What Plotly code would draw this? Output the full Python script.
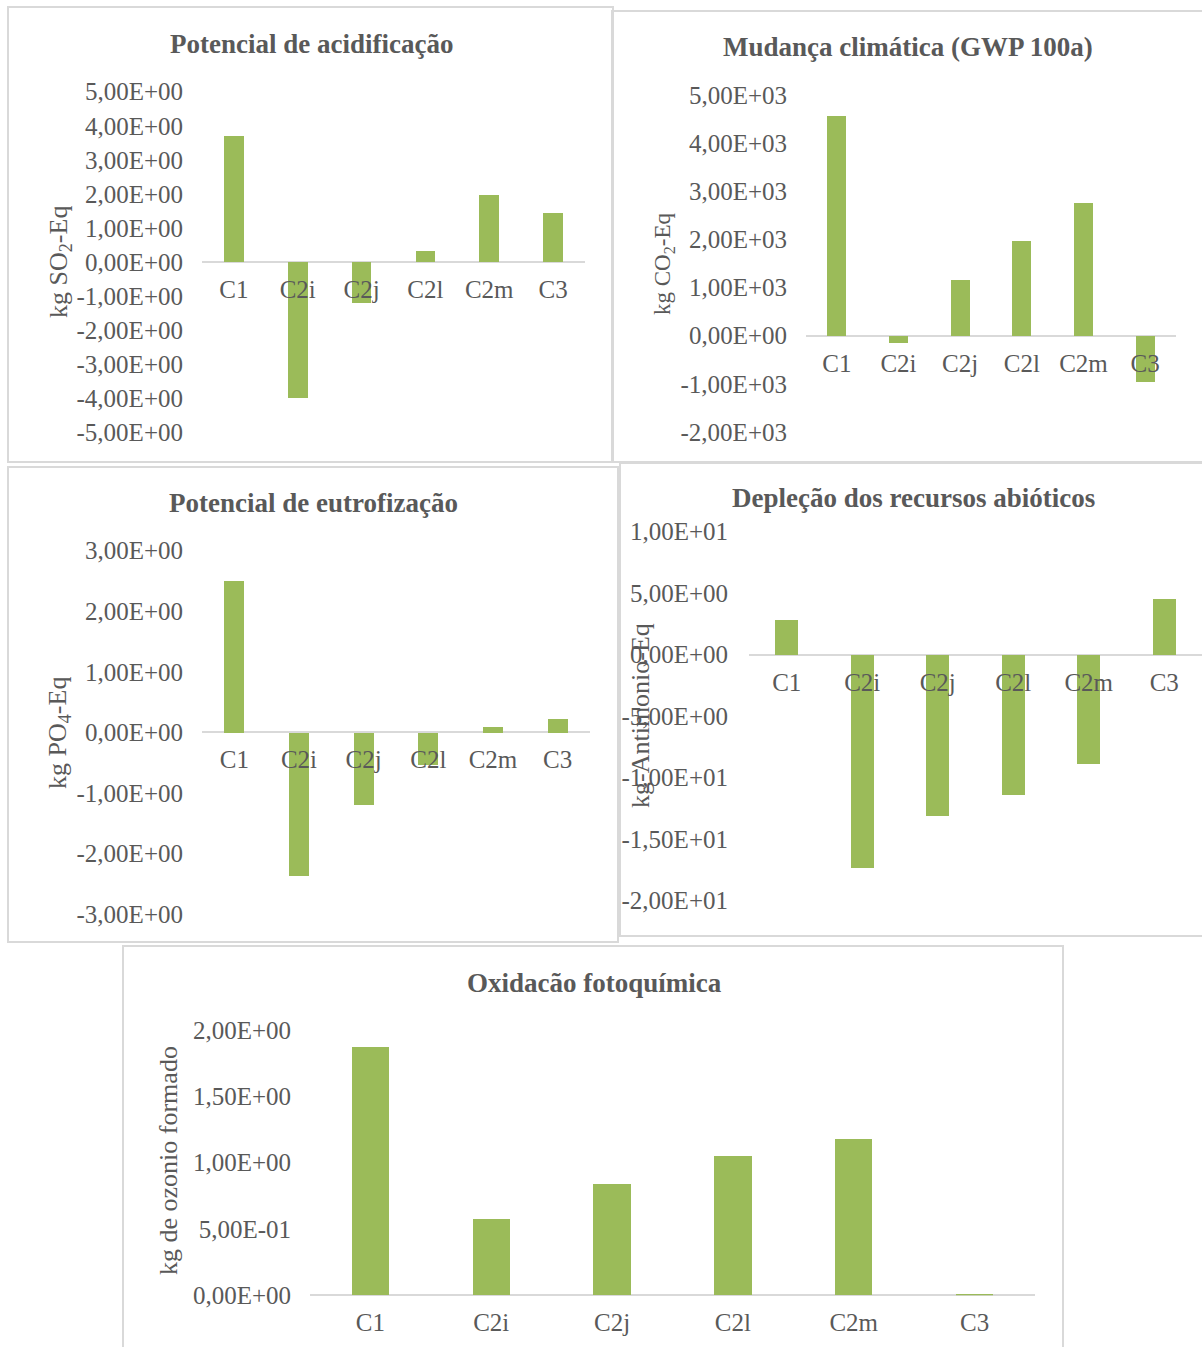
import plotly.graph_objects as go

# ---------------- data ----------------
categories = ["C1", "C2i", "C2j", "C2l", "C2m", "C3"]

acidificacao = [3.72, -3.98, -1.19, 0.34, 1.99, 1.46]          # kg SO2-Eq
mudanca_climatica = [4570, -160, 1150, 1960, 2750, -970]       # kg CO2-Eq
eutrofizacao = [2.50, -2.36, -1.20, -0.53, 0.10, 0.22]         # kg PO4-Eq
deplecao_abiotica = [2.87, -17.3, -13.1, -11.4, -8.9, 4.58]    # kg Antimonio-Eq
oxidacao_fotoquimica = [1.87, 0.575, 0.84, 1.05, 1.18, 0.01]   # kg de ozonio formado

acid_tickvals = [5, 4, 3, 2, 1, 0, -1, -2, -3, -4, -5]
acid_ticktext = ["5,00E+00", "4,00E+00", "3,00E+00", "2,00E+00", "1,00E+00", "0,00E+00",
                 "-1,00E+00", "-2,00E+00", "-3,00E+00", "-4,00E+00", "-5,00E+00"]

gwp_tickvals = [5000, 4000, 3000, 2000, 1000, 0, -1000, -2000]
gwp_ticktext = ["5,00E+03", "4,00E+03", "3,00E+03", "2,00E+03", "1,00E+03", "0,00E+00",
                "-1,00E+03", "-2,00E+03"]

eutro_tickvals = [3, 2, 1, 0, -1, -2, -3]
eutro_ticktext = ["3,00E+00", "2,00E+00", "1,00E+00", "0,00E+00", "-1,00E+00", "-2,00E+00",
                  "-3,00E+00"]

abio_tickvals = [10, 5, 0, -5, -10, -15, -20]
abio_ticktext = ["1,00E+01", "5,00E+00", "0,00E+00", "-5,00E+00", "-1,00E+01", "-1,50E+01",
                 "-2,00E+01"]

oxi_tickvals = [2, 1.5, 1, 0.5, 0]
oxi_ticktext = ["2,00E+00", "1,50E+00", "1,00E+00", "5,00E-01", "0,00E+00"]

# ---------------- styling ----------------
W, H = 1202, 1347
BAR = "#9BBB59"
TEXT = "#595959"
LINE = "#D9D9D9"
FONT = "Liberation Serif, Times New Roman, serif"


def px(x):
    return x / W


def py(y):
    return 1 - y / H


panels = [
    dict(values=acidificacao, tv=acid_tickvals, tt=acid_ticktext, rng=[-5, 5],
         title="Potencial de acidificação", ytitle="kg SO<sub>2</sub>-Eq", ytsize=26,
         plot=(202, 585, 91.7, 432.3), frame=(8, 7, 613, 462),
         tpos=(311, 44), ypos=(60, 262), ystand=18),
    dict(values=mudanca_climatica, tv=gwp_tickvals, tt=gwp_ticktext, rng=[-2000, 5000],
         title="Mudança climática (GWP 100a)", ytitle="kg CO<sub>2</sub>-Eq", ytsize=23,
         plot=(806, 1176, 95, 432), frame=(612, 11, 1210, 462),
         tpos=(908, 47), ypos=(664, 264), ystand=18),
    dict(values=eutrofizacao, tv=eutro_tickvals, tt=eutro_ticktext, rng=[-3, 3],
         title="Potencial de eutrofização", ytitle="kg PO<sub>4</sub>-Eq", ytsize=26,
         plot=(202, 590, 550.7, 914), frame=(8, 467, 618, 942),
         tpos=(313, 503), ypos=(59, 733), ystand=18),
    dict(values=deplecao_abiotica, tv=abio_tickvals, tt=abio_ticktext, rng=[-20, 10],
         title="Depleção dos recursos abióticos", ytitle="kg-Antimonio-Eq", ytsize=26,
         plot=(749, 1202, 531.7, 900.7), frame=(620, 463, 1210, 936),
         tpos=(913, 498), ypos=(641, 716), ystand=20),
    dict(values=oxidacao_fotoquimica, tv=oxi_tickvals, tt=oxi_ticktext, rng=[0, 2],
         title="Oxidacão fotoquímica", ytitle="kg de ozonio formado", ytsize=26,
         plot=(310, 1035, 1030, 1295.3), frame=(123, 946, 1063, 1360),
         tpos=(594, 983), ypos=(168, 1160), ystand=18),
]

fig = go.Figure()
layout = dict(
    width=W, height=H,
    margin=dict(l=0, r=0, t=0, b=0, pad=0, autoexpand=False),
    paper_bgcolor="white", plot_bgcolor="rgba(0,0,0,0)",
    showlegend=False, bargap=0,
    font=dict(family=FONT, color=TEXT, size=25),
)
shapes, annotations = [], []

for i, p in enumerate(panels, start=1):
    xn = "x" if i == 1 else f"x{i}"
    yn = "y" if i == 1 else f"y{i}"
    xk = "xaxis" if i == 1 else f"xaxis{i}"
    yk = "yaxis" if i == 1 else f"yaxis{i}"
    x0, x1, ytop, ybot = p["plot"]
    lo, hi = p["rng"]
    zero_px = ybot - (0 - lo) / (hi - lo) * (ybot - ytop)

    fig.add_trace(go.Bar(x=categories, y=p["values"], xaxis=xn, yaxis=yn,
                         marker=dict(color=BAR, line=dict(width=0)), width=0.31,
                         hoverinfo="x+y"))

    # category axis sits on the zero line, as in a spreadsheet column chart
    layout[xk] = dict(domain=[px(x0), px(x1)], anchor="free", position=py(zero_px),
                      showgrid=False, zeroline=False, showline=False, ticks="",
                      automargin=False,
                      tickfont=dict(family=FONT, size=25, color=TEXT),
                      ticklabelstandoff=10, fixedrange=True)
    layout[yk] = dict(domain=[py(ybot), py(ytop)], anchor=xn, range=p["rng"],
                      tickvals=p["tv"], ticktext=p["tt"],
                      showgrid=False, showline=False, ticks="", automargin=False,
                      zeroline=True, zerolinecolor=LINE, zerolinewidth=2,
                      tickfont=dict(family=FONT, size=25, color=TEXT),
                      ticklabelstandoff=p["ystand"], fixedrange=True)

    fx0, fy0, fx1, fy1 = p["frame"]
    shapes.append(dict(type="rect", xref="paper", yref="paper", layer="below",
                       x0=px(fx0), x1=px(fx1), y0=py(fy1), y1=py(fy0),
                       line=dict(color=LINE, width=2), fillcolor="rgba(0,0,0,0)"))

    annotations.append(dict(text=f"<b>{p['title']}</b>", xref="paper", yref="paper",
                            x=px(p["tpos"][0]), y=py(p["tpos"][1]),
                            xanchor="center", yanchor="middle", showarrow=False,
                            font=dict(family=FONT, size=27, color=TEXT)))
    annotations.append(dict(text=p["ytitle"], xref="paper", yref="paper",
                            x=px(p["ypos"][0]), y=py(p["ypos"][1]), textangle=-90,
                            xanchor="center", yanchor="middle", showarrow=False,
                            font=dict(family=FONT, size=p["ytsize"], color=TEXT)))

layout["shapes"] = shapes
layout["annotations"] = annotations
fig.update_layout(**layout)

fig.write_html("out.html")
